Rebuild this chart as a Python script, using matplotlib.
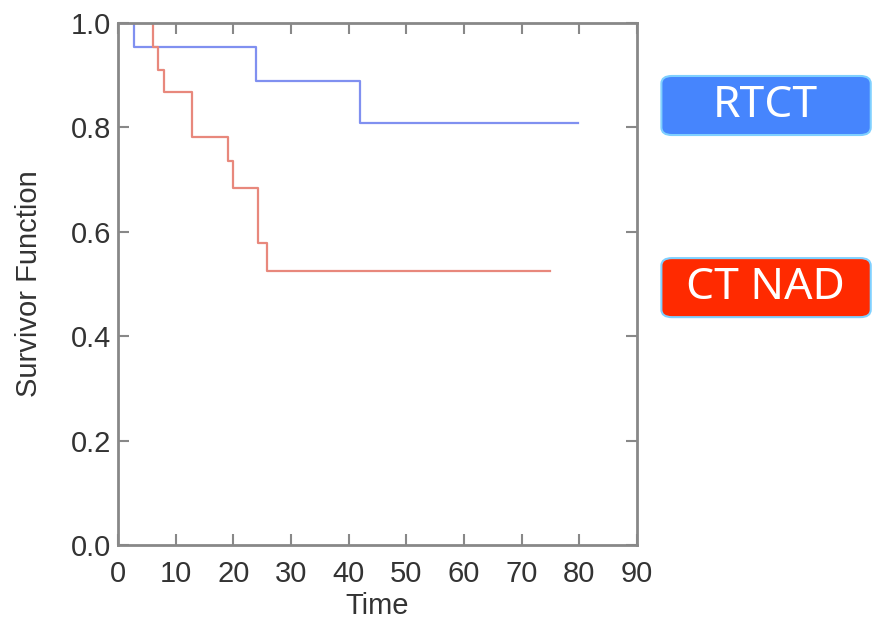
import matplotlib.pyplot as plt
from matplotlib.patches import FancyBboxPatch

# Kaplan-Meier step data
rtct_time = [0, 2.8, 23.9, 42.0, 79.7]
rtct_surv = [1.0, 0.954, 0.889, 0.808, 0.808]

ctnad_time = [0, 6.0, 7.0, 7.9, 12.8, 19.0, 20.0, 24.2, 25.8, 74.9]
ctnad_surv = [1.0, 0.954, 0.91, 0.867, 0.782, 0.736, 0.684, 0.579, 0.524, 0.524]

xticks = list(range(0, 91, 10))
yticks = [0.0, 0.2, 0.4, 0.6, 0.8, 1.0]

plt.rcParams['font.family'] = ['Liberation Sans', 'DejaVu Sans']

fig = plt.figure(figsize=(8.76, 6.28), dpi=100)
ax = fig.add_axes([0.1347, 0.1322, 0.5925, 0.8312])

ax.step(rtct_time, rtct_surv, where='post', color='#8090f0', lw=1.6)
ax.step(ctnad_time, ctnad_surv, where='post', color='#e8887c', lw=1.6)

ax.set_xlim(0, 90)
ax.set_ylim(0, 1.0)
ax.set_xticks(xticks)
ax.set_yticks(yticks)
ax.set_yticklabels(['%.1f' % v for v in yticks])
ax.tick_params(direction='in', length=8, width=1.5, color='#888888',
               top=True, right=True, labelsize=21, labelcolor='#333333')
ax.tick_params(axis='x', pad=11)
ax.tick_params(axis='y', pad=5)
for s in ax.spines.values():
    s.set_color('#888888')
    s.set_linewidth(2)
ax.set_xlabel('Time', fontsize=21, color='#333333', labelpad=3)
ax.set_ylabel('Survivor Function', fontsize=21, color='#333333', labelpad=20)

# legend-like labels at the right
boxes = [('RTCT', '#4685fd', 0.785), ('CT NAD', '#ff2a00', 0.495)]
for text, col, y0 in boxes:
    p = FancyBboxPatch((0.755, y0), 0.239, 0.094,
                       boxstyle='round,pad=0,rounding_size=0.012',
                       transform=fig.transFigure, facecolor=col,
                       edgecolor='#7fd0ff', lw=1.5)
    fig.patches.append(p)
    fig.text(0.874, y0 + 0.046, text, ha='center', va='center',
             color='white', fontsize=32, family='Noto Sans')

fig.savefig('out.png', dpi=100)
